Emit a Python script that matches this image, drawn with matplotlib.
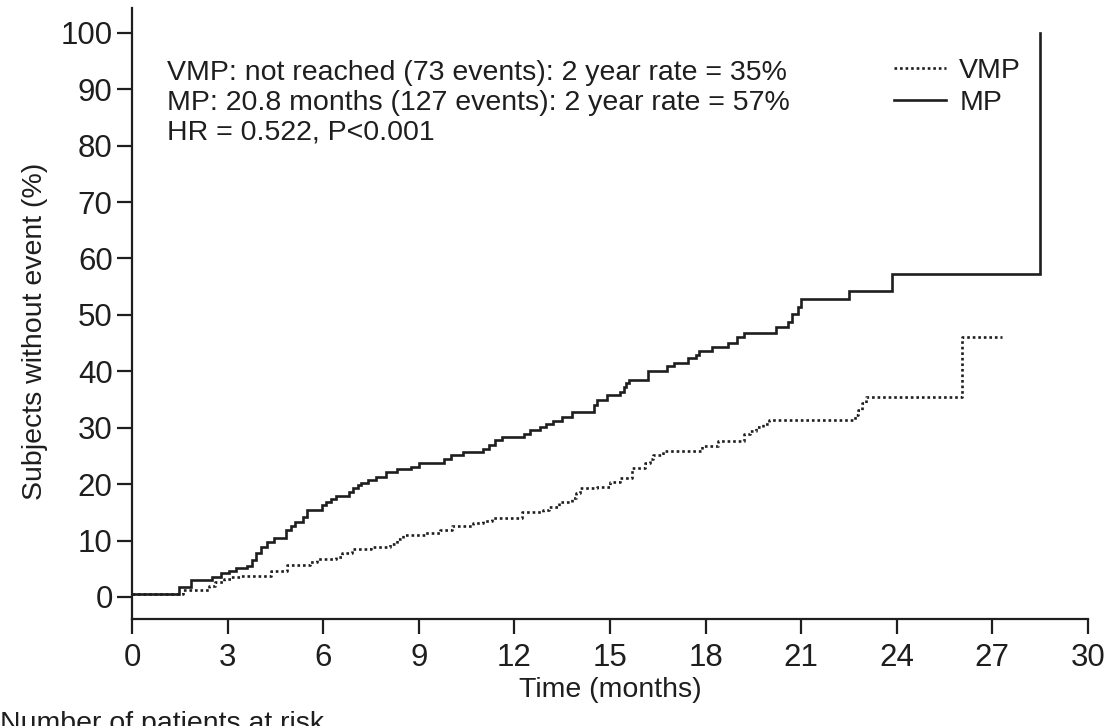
import matplotlib
matplotlib.use("Agg")
import matplotlib.pyplot as plt
from matplotlib.lines import Line2D

plt.rcParams["font.family"] = ["Liberation Sans", "DejaVu Sans"]

# event times (months) and cumulative % of subjects with event
mp_t = [0, 1.47, 1.85, 2.5, 2.8, 3.05, 3.25, 3.6, 3.75, 3.9, 4.05, 4.24, 4.45,
        4.84, 5.0, 5.1, 5.35, 5.5, 5.95, 6.1, 6.25, 6.4, 6.8, 6.95, 7.1, 7.2,
        7.4, 7.65, 7.97, 8.3, 8.75, 9.0, 9.8, 10.0, 10.4, 11.0, 11.2, 11.4,
        11.6, 12.3, 12.5, 12.8, 13.0, 13.2, 13.5, 13.8, 14.5, 14.6, 14.9,
        15.3, 15.45, 15.5, 15.6, 16.2, 16.8, 17.0, 17.45, 17.7, 17.8, 18.2,
        18.7, 19.0, 19.2, 20.2, 20.6, 20.7, 20.9, 21.0, 22.5, 23.85, 28.5]
mp_y = [0.6, 1.8, 3.0, 3.5, 4.2, 4.6, 5.1, 5.5, 6.5, 7.8, 8.8, 9.8, 10.4,
        11.9, 12.6, 13.3, 14.2, 15.4, 16.3, 16.9, 17.4, 17.9, 18.6, 19.3, 19.8,
        20.2, 20.7, 21.3, 22.2, 22.7, 23.1, 23.8, 24.5, 25.2, 25.7, 26.3, 27.0,
        27.8, 28.4, 28.9, 29.6, 30.2, 30.6, 31.2, 31.9, 32.8, 34.0, 34.9, 35.8,
        36.4, 37.3, 37.9, 38.5, 40.1, 41.0, 41.5, 42.4, 42.9, 43.6, 44.3,
        45.0, 46.1, 46.8, 47.9, 48.8, 50.2, 51.4, 52.8, 54.3, 57.3, 100]

vmp_t = [0, 1.6, 2.4, 2.6, 2.9, 3.1, 3.4, 4.35, 4.87, 5.6, 5.8, 6.4, 6.6,
         6.9, 7.5, 8.1, 8.3, 8.5, 9.2, 9.65, 10.05, 10.7, 11.0, 11.3, 12.25,
         12.9, 13.1, 13.4, 13.8, 13.95, 14.05, 14.6, 15.0, 15.3, 15.7, 16.1,
         16.25, 16.35, 16.65, 17.9, 18.4, 19.2, 19.4, 19.6, 19.8, 20.0, 22.7,
         22.8, 22.9, 23.05, 26.05, 27.3]
vmp_y = [0.6, 1.2, 2.0, 2.7, 3.2, 3.5, 3.7, 4.6, 5.7, 6.2, 6.7, 7.1, 7.8,
         8.5, 8.9, 9.4, 10.2, 11.0, 11.3, 11.9, 12.6, 13.1, 13.5, 14.0, 15.1,
         15.5, 16.0, 16.8, 17.5, 18.4, 19.3, 19.5, 20.4, 21.1, 22.9, 23.8,
         24.5, 25.2, 25.9, 26.8, 27.7, 28.9, 29.5, 30.1, 30.7, 31.4, 32.2,
         33.2, 34.3, 35.5, 46.1, 46.1]

x_ticks = list(range(0, 31, 3))
y_ticks = list(range(0, 101, 10))

notes = ["VMP: not reached (73 events): 2 year rate = 35%",
         "MP: 20.8 months (127 events): 2 year rate = 57%",
         "HR = 0.522, P<0.001"]

ink = "#1e1e1e"

fig = plt.figure(figsize=(11.1, 7.26), dpi=100)
ax = fig.add_axes([0.119, 0.1474, 0.861, 0.8416])

ax.step(mp_t, mp_y, where="post", color=ink, lw=1.9, solid_joinstyle="miter")
ax.step(vmp_t, vmp_y, where="post", color=ink, lw=1.9, linestyle=(0, (1, 1.1)))

ax.set_xlim(0, 30)
ax.set_ylim(-3.9, 104.4)
ax.set_xticks(x_ticks)
ax.set_yticks(y_ticks)

for side in ["top", "right"]:
    ax.spines[side].set_visible(False)
for side in ["left", "bottom"]:
    ax.spines[side].set_linewidth(1.6)
    ax.spines[side].set_color(ink)
ax.tick_params(direction="out", length=11, width=1.6, color=ink,
               labelsize=22.5, labelcolor=ink)
ax.tick_params(axis="x", pad=6)
ax.tick_params(axis="y", pad=3)

ax.set_xlabel("Time (months)", fontsize=20.5, color=ink, labelpad=3)
ax.set_ylabel("Subjects without event (%)", fontsize=20.5, color=ink)
ax.yaxis.set_label_coords(-0.088, 0.47)

ax.text(1.1, 95.2, "\n".join(notes), fontsize=20.5, color=ink,
        va="top", ha="left", linespacing=1.2)

handles = [Line2D([], [], color=ink, lw=1.9, linestyle=(0, (1, 1.1))),
           Line2D([], [], color=ink, lw=1.9)]
ax.legend(handles, ["VMP", "MP"], loc="upper left", bbox_to_anchor=(0.797, 0.918),
          frameon=False, fontsize=20.5, handlelength=1.85, handletextpad=0.45,
          labelspacing=0.22, borderpad=0, borderaxespad=0, labelcolor=ink)

fig.text(0.0, 0.02, "Number of patients at risk", fontsize=20.5, color=ink,
         ha="left", va="top")

fig.savefig("out.png", dpi=100)
